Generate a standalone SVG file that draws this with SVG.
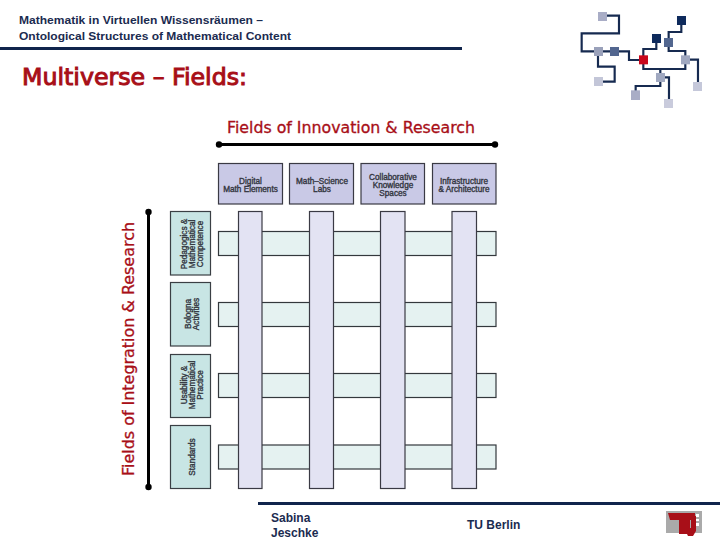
<svg xmlns="http://www.w3.org/2000/svg" width="720" height="540" viewBox="0 0 720 540">
<style>
.h{font-family:"Liberation Sans",Arial,sans-serif;font-weight:bold;fill:#1b2b50;font-size:11.5px}
.f{font-family:"Liberation Sans",Arial,sans-serif;font-weight:bold;fill:#1b2b50;font-size:12px}
.r{font-family:"DejaVu Sans",sans-serif;fill:#a80f18;stroke:#a80f18}
.t{font-family:"Liberation Sans",Arial,sans-serif;font-size:8.2px;fill:#33363f;stroke:#33363f;stroke-width:.35;text-anchor:middle}
.top{fill:#c9c9e6;stroke:#3a3a44;stroke-width:1.2}
.side{fill:#c8e5e4;stroke:#3a3f44;stroke-width:1.2}
.hb{fill:#e5f2f1;stroke:#33383c;stroke-width:1.2}
.vb{fill:#e3e3f3;stroke:#3a3a44;stroke-width:1.2}
.rule{fill:#10244c}
.lg{fill:none;stroke:#162a50;stroke-width:6.500}
.axis{stroke:#000;stroke-width:3;fill:none}
</style>
<rect width="720" height="540" fill="#fff"/>
<g id="header">
<text class="h" x="19" y="24" textLength="244" lengthAdjust="spacingAndGlyphs">Mathematik in Virtuellen Wissensräumen –</text>
<text class="h" x="19" y="40" textLength="272" lengthAdjust="spacingAndGlyphs">Ontological Structures of Mathematical Content</text>
<rect class="rule" x="0" y="47" width="462" height="3"/>
<text class="r" x="22" y="85" font-size="23" stroke-width="1" textLength="225" lengthAdjust="spacingAndGlyphs">Multiverse – Fields:</text>
</g>
<g id="network-logo" transform="translate(570 0) scale(.3333)">
<g class="lg">
<path d="M110 47H147V100H35V154H85"/>
<path d="M85 154H177V180H220"/>
<path d="M84 154V200H134V245H85"/>
<path d="M220 180V147H259V115"/>
<path d="M220 180V207H346V179"/>
<path d="M334 61V96H296V153H346V179"/>
<path d="M346 179H384V259"/>
<path d="M271 207V258H197V285"/>
<path d="M271 232H297V310"/>
</g>
<rect x="84" y="36" width="27" height="27" fill="#a9adc6"/>
<rect x="72" y="141" width="27" height="27" fill="#9aa1ba"/>
<rect x="120" y="141" width="27" height="27" fill="#52668f"/>
<rect x="72" y="231" width="27" height="27" fill="#c3c6d8"/>
<rect x="207" y="166" width="27" height="27" fill="#c8071c"/>
<rect x="246" y="102" width="27" height="27" fill="#0e2a5c"/>
<rect x="321" y="48" width="27" height="27" fill="#0e2a5c"/>
<rect x="282" y="114" width="27" height="27" fill="#52668f"/>
<rect x="333" y="166" width="27" height="27" fill="#a0a8c0"/>
<rect x="369" y="246" width="27" height="27" fill="#c5c8da"/>
<rect x="258" y="219" width="27" height="27" fill="#a0a8c0"/>
<rect x="183" y="271" width="27" height="29" fill="#a9adc6"/>
<rect x="282" y="297" width="27" height="27" fill="#c9cbdc"/>
</g>
<g id="axes" class="connectors">
<text class="r" x="351" y="133" font-size="15" stroke-width=".3" text-anchor="middle" textLength="248" lengthAdjust="spacingAndGlyphs">Fields of Innovation &amp; Research</text>
<path class="axis" d="M219 144.500H495"/>
<circle cx="219" cy="144.500" r="3.200"/><circle cx="495" cy="144.500" r="3.200"/>
<text class="r" transform="translate(134 476) rotate(-90)" font-size="15" stroke-width=".3" textLength="254" lengthAdjust="spacingAndGlyphs">Fields of Integration &amp; Research</text>
<path class="axis" d="M148.500 212V487"/>
<circle cx="148.500" cy="212" r="3.200"/><circle cx="148.500" cy="487" r="3.200"/>
</g>
<g id="row-bars">
<rect class="hb" x="218.500" y="231.500" width="277.500" height="24"/>
<rect class="hb" x="218.500" y="302.500" width="277.500" height="24"/>
<rect class="hb" x="218.500" y="373.500" width="277.500" height="24"/>
<rect class="hb" x="218.500" y="445" width="277.500" height="24"/>
</g>
<g id="column-bars">
<rect class="vb" x="238.500" y="211.500" width="23.500" height="277"/>
<rect class="vb" x="309.500" y="211.500" width="24" height="277"/>
<rect class="vb" x="380.500" y="211.500" width="24.500" height="277"/>
<rect class="vb" x="452" y="211.500" width="24.500" height="277"/>
</g>
<g id="top-digital"><rect class="top" x="218.500" y="163.500" width="64" height="40.500"/><text class="t"><tspan x="250.500" y="184">Digital</tspan><tspan x="250.500" dy="8.300">Math Elements</tspan></text></g>
<g id="top-labs"><rect class="top" x="289.500" y="163.500" width="64" height="40.500"/><text class="t"><tspan x="322" y="184">Math–Science</tspan><tspan x="322" dy="8.300">Labs</tspan></text></g>
<g id="top-spaces"><rect class="top" x="361" y="163.500" width="63.500" height="40.500"/><text class="t"><tspan x="393" y="179.700">Collaborative</tspan><tspan x="393" dy="8.300">Knowledge</tspan><tspan x="393" dy="8.300">Spaces</tspan></text></g>
<g id="top-infrastructure"><rect class="top" x="432.500" y="163.500" width="63.500" height="40.500"/><text class="t"><tspan x="464" y="184">Infrastructure</tspan><tspan x="464" dy="8.300">&amp; Architecture</tspan></text></g>
<g id="side-pedagogics"><rect class="side" x="170.500" y="211.500" width="40" height="63.500"/><text class="t" transform="translate(187 244) rotate(-90)"><tspan x="0" y="0">Pedagogics &amp;</tspan><tspan x="0" dy="8">Mathematical</tspan><tspan x="0" dy="8">Competence</tspan></text></g>
<g id="side-bologna"><rect class="side" x="170.500" y="282.500" width="40" height="63.500"/><text class="t" transform="translate(191 314) rotate(-90)"><tspan x="0" y="0">Bologna</tspan><tspan x="0" dy="8">Activities</tspan></text></g>
<g id="side-usability"><rect class="side" x="170.500" y="354.500" width="40" height="63"/><text class="t" transform="translate(187 385) rotate(-90)"><tspan x="0" y="0">Usability &amp;</tspan><tspan x="0" dy="8">Mathematical</tspan><tspan x="0" dy="8">Practice</tspan></text></g>
<g id="side-standards"><rect class="side" x="170.500" y="425.500" width="40" height="63"/><text class="t" transform="translate(195 457) rotate(-90)">Standards</text></g>
<g id="footer">
<rect class="rule" x="258" y="502" width="462" height="3"/>
<text class="f" x="271" y="522">Sabina</text>
<text class="f" x="271" y="537">Jeschke</text>
<text class="f" x="467" y="529">TU Berlin</text>
</g>
<g id="tu-logo">
<rect x="666" y="511" width="36" height="22" fill="#aaa"/>
<path d="M668 513H695V520H687V534H679V520H670Z" fill="#a80f18"/>
<path d="M687 520H690V528H691V516H696V531L693 536H688L687 534Z" fill="#a80f18"/>
<path d="M696 514h3v3h-3zM696 519h3v2h-3zM696 523h3v3h-3z" fill="#fff"/>
</g>
</svg>
